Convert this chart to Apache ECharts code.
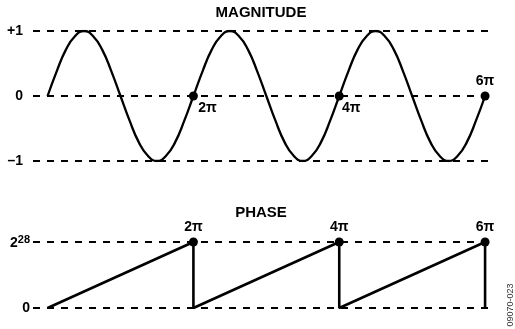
<!DOCTYPE html>
<html>
<head>
<meta charset="utf-8">
<script src="https://cdn.jsdelivr.net/npm/echarts@6/dist/echarts.min.js"></script>
<style>
  html, body { margin: 0; padding: 0; background: #fff; }
  #chart { width: 515px; height: 329px; }
</style>
</head>
<body>
<div id="chart"></div>
<script>
// x in units of pi
const magX = [0, 0.125, 0.25, 0.375, 0.5, 0.625, 0.75, 0.875,
  1, 1.125, 1.25, 1.375, 1.5, 1.625, 1.75, 1.875,
  2, 2.125, 2.25, 2.375, 2.5, 2.625, 2.75, 2.875,
  3, 3.125, 3.25, 3.375, 3.5, 3.625, 3.75, 3.875,
  4, 4.125, 4.25, 4.375, 4.5, 4.625, 4.75, 4.875,
  5, 5.125, 5.25, 5.375, 5.5, 5.625, 5.75, 5.875, 6];
const magY = [0, 0.38, 0.71, 0.92, 1, 0.92, 0.71, 0.38,
  0, -0.38, -0.71, -0.92, -1, -0.92, -0.71, -0.38,
  0, 0.38, 0.71, 0.92, 1, 0.92, 0.71, 0.38,
  0, -0.38, -0.71, -0.92, -1, -0.92, -0.71, -0.38,
  0, 0.38, 0.71, 0.92, 1, 0.92, 0.71, 0.38,
  0, -0.38, -0.71, -0.92, -1, -0.92, -0.71, -0.38, 0];

// phase: 1 stands for 2^28
const phaseX = [0, 2, 2, 4, 4, 6, 6];
const phaseY = [0, 1, 0, 1, 0, 1, 0];

const markX = [2, 4, 6];
const markLabels = ['2π', '4π', '6π'];
const magTicks = {'1': '+1', '0': '0', '-1': '–1'};
const phaseTicks = {'1': '{b|2}{s|28}', '0': '0'};

const FONT = 'Liberation Sans, Arial, sans-serif';
const chart = echarts.init(document.getElementById('chart'));

const dashed = {show: true, lineStyle: {color: '#000', width: 2, type: [7, 7]}};
const xCommon = {type: 'value', min: -0.2, max: 6.04, show: false};

// label placement per marker
const magLabelPos = [
  {position: 'bottom', offset: [14, -4]},
  {position: 'bottom', offset: [12, -4]},
  {position: 'top', offset: [0, 2]}
];

const option = {
  animation: false,
  title: [
    {text: 'MAGNITUDE', left: 261, top: 5, textAlign: 'center', padding: 0,
      textStyle: {fontFamily: FONT, fontSize: 15, fontWeight: 'bold', color: '#000'}},
    {text: 'PHASE', left: 261, top: 205, textAlign: 'center', padding: 0,
      textStyle: {fontFamily: FONT, fontSize: 15, fontWeight: 'bold', color: '#000'}}
  ],
  grid: [
    {left: 33, right: 27, top: 31, height: 130},
    {left: 33, right: 27, top: 242, height: 66}
  ],
  xAxis: [
    Object.assign({gridIndex: 0}, xCommon),
    Object.assign({gridIndex: 1}, xCommon)
  ],
  yAxis: [
    {
      gridIndex: 0, type: 'value', min: -1, max: 1, interval: 1,
      axisLine: {show: false}, axisTick: {show: false},
      splitLine: dashed,
      axisLabel: {margin: 10, fontFamily: FONT, fontSize: 14, fontWeight: 'bold', color: '#000',
        formatter: v => magTicks[String(v)]}
    },
    {
      gridIndex: 1, type: 'value', min: 0, max: 1, interval: 1,
      axisLine: {show: false}, axisTick: {show: false},
      splitLine: dashed,
      axisLabel: {margin: 3, fontFamily: FONT, fontSize: 14, fontWeight: 'bold', color: '#000',
        formatter: v => phaseTicks[String(v)],
        rich: {
          b: {fontFamily: FONT, fontSize: 14, fontWeight: 'bold', color: '#000', verticalAlign: 'bottom', lineHeight: 16},
          s: {fontFamily: FONT, fontSize: 11, fontWeight: 'bold', color: '#000', verticalAlign: 'top', padding: [0, 0, 5, 0]}
        }}
    }
  ],
  series: [
    {
      type: 'line', xAxisIndex: 0, yAxisIndex: 0, smooth: true, showSymbol: false,
      lineStyle: {color: '#000', width: 2.3},
      data: magX.map((x, i) => [x, magY[i]])
    },
    {
      type: 'line', xAxisIndex: 1, yAxisIndex: 1, showSymbol: false,
      lineStyle: {color: '#000', width: 2.6},
      data: phaseX.map((x, i) => [x, phaseY[i]])
    },
    {
      type: 'scatter', xAxisIndex: 0, yAxisIndex: 0, symbolSize: 9,
      itemStyle: {color: '#000', opacity: 1},
      label: {show: true, fontFamily: FONT, fontSize: 14, fontWeight: 'bold', color: '#000',
        formatter: p => markLabels[p.dataIndex]},
      data: markX.map((x, i) => ({value: [x, 0], label: magLabelPos[i]}))
    },
    {
      type: 'scatter', xAxisIndex: 1, yAxisIndex: 1, symbolSize: 9,
      itemStyle: {color: '#000', opacity: 1},
      label: {show: true, position: 'top', offset: [0, 2], fontFamily: FONT, fontSize: 14,
        fontWeight: 'bold', color: '#000', formatter: p => markLabels[p.dataIndex]},
      data: markX.map(x => [x, 1])
    }
  ],
  graphic: [
    {type: 'text', x: 511, y: 305, rotation: Math.PI / 2,
      style: {text: '09070-023', fontFamily: FONT, fontSize: 9, fill: '#333',
        align: 'center', verticalAlign: 'middle'}}
  ]
};

chart.setOption(option);
</script>
</body>
</html>
